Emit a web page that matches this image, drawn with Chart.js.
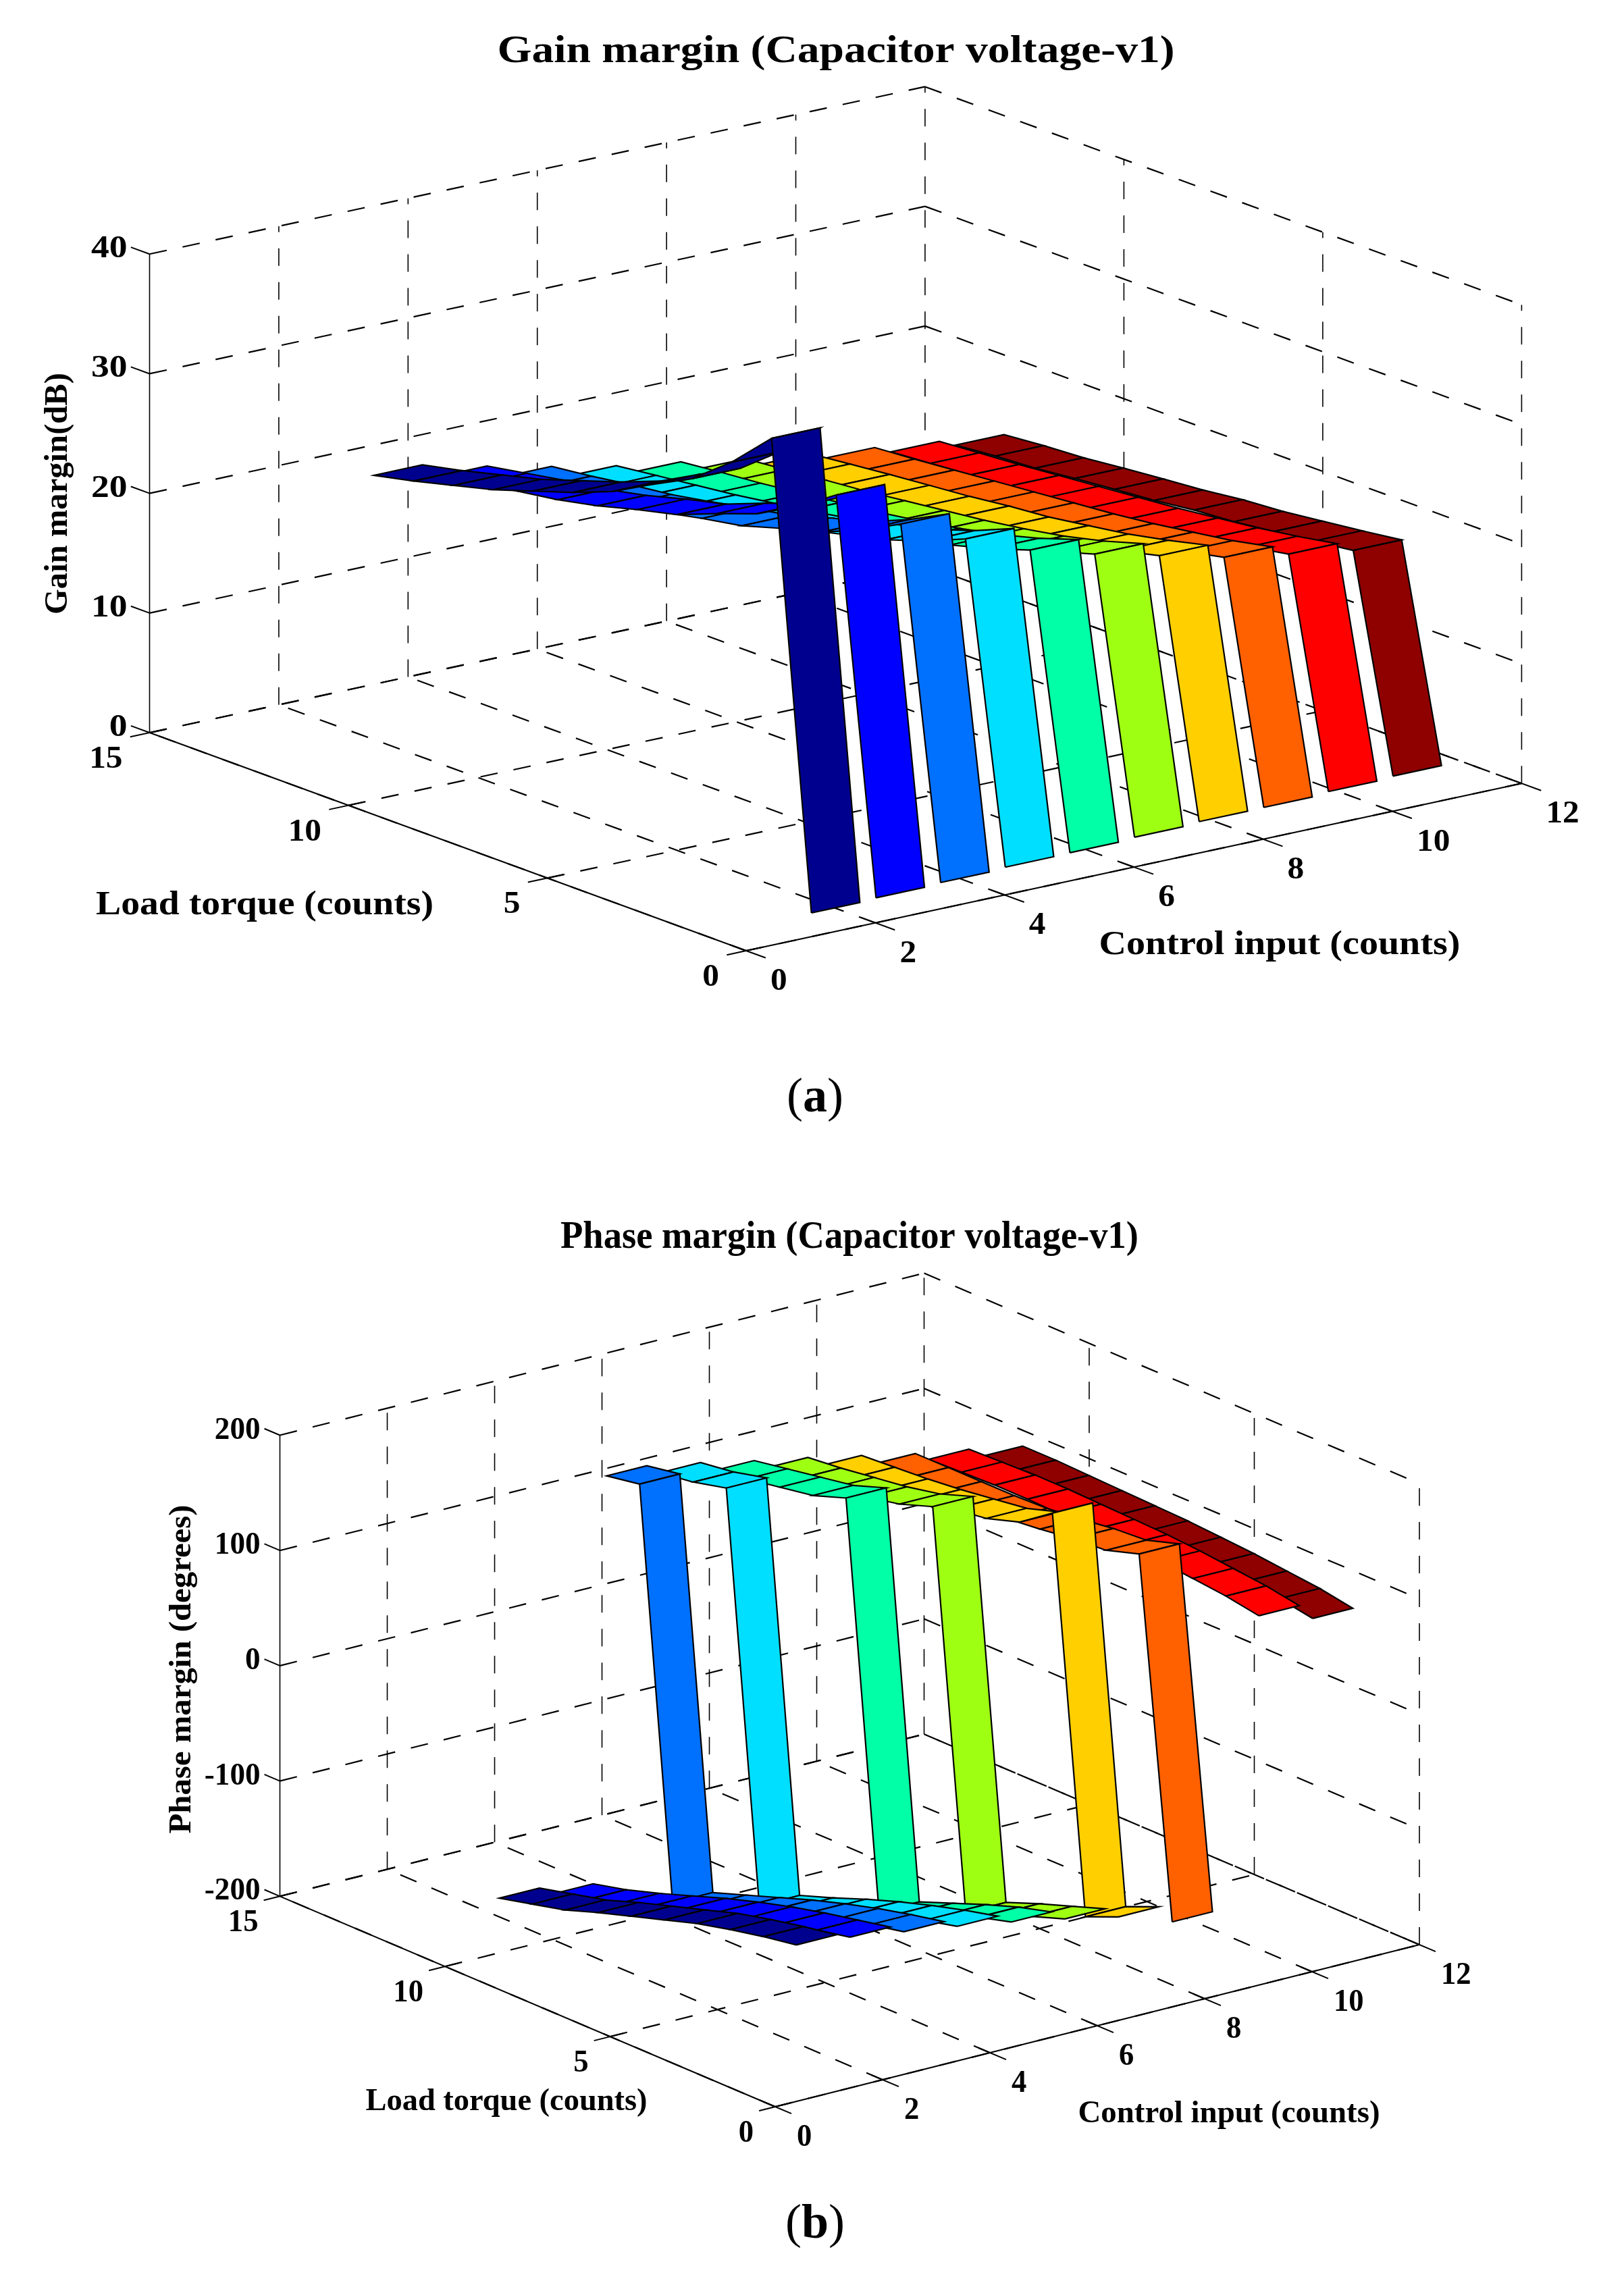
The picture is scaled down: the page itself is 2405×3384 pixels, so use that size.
<!DOCTYPE html>
<html>
<head>
<meta charset="utf-8">
<script src="https://cdn.jsdelivr.net/npm/chart.js@4"></script>
<style>
  html, body { margin: 0; padding: 0; background: #fff; }
  #page { position: relative; width: 2405px; height: 3384px; overflow: hidden; }
  canvas { position: absolute; left: 0; }
  #chartGain { top: 0; }
  #chartPhase { top: 1692px; }
  .caption { position: absolute; left: 1157px; width: 100px; text-align: center;
    font: 72px "Liberation Serif", serif; color: #000; }
  .caption b { font-weight: bold; }
</style>
</head>
<body>
<div id="page">
  <canvas id="chartGain" width="2405" height="1692"></canvas>
  <canvas id="chartPhase" width="2405" height="1692"></canvas>
  <div class="caption" style="top:1581px">(<b>a</b>)</div>
  <div class="caption" style="top:3249px">(<b>b</b>)</div>
</div>
<script>
// control input position of each ribbon
const controlInputs = [2, 3, 4, 5, 6, 7, 8, 9, 10, 11];
const ribbonColors = ["#00008f", "#0000ff", "#0070ff", "#00dfff", "#00ffa6",
  "#9fff12", "#ffcf00", "#ff6000", "#ff0000", "#8f0000"];
const ribbonHalfWidth = 0.375;

const xTicks = [0, 2, 4, 6, 8, 10, 12];
const yTicks = [0, 5, 10, 15];
const gainZTicks = [0, 10, 20, 30, 40];
const phaseZTicks = [-200, -100, 0, 100, 200];

// gain margin (dB), load torque = 1..12
const gainLoad = [1, 2, 3, 4, 5, 6, 7, 8, 9, 10, 11, 12];
const gain1 = [0.05, 38.5, 35.3, 32.7, 31, 29.2, 27.9, 26.8, 25.7, 24.85, 24, 23.26];
const gain2 = [0.15, 32.6, 30.4, 28.6, 27.4, 26.1, 25.3, 24.4, 23.7, 23.2, 22.6, 22];
const gain3 = [0.26, 29, 27.3, 25.9, 25, 24, 23.4, 22.7, 22.1, 21.7, 21.2, 20.8];
const gain4 = [0.38, 26.6, 25.2, 24.1, 23.3, 22.5, 21.9, 21.4, 20.9, 20.5, 20.1, 19.7];
const gain5 = [0.42, 24.5, 23.4, 22.5, 21.8, 21.2, 20.7, 20.3, 19.9, 19.5, 19.2, 18.85];
const gain6 = [0.55, 23, 22, 21.2, 20.6, 20.1, 19.7, 19.3, 18.9, 18.6, 18.25, 17.94];
const gain7 = [0.69, 21.7, 20.9, 20.2, 19.7, 19.2, 18.9, 18.5, 18.2, 17.9, 17.55, 17.2];
const gain8 = [0.71, 20.4, 19.7, 19.2, 18.7, 18.3, 18, 17.7, 17.4, 17.1, 16.8, 16.55];
const gain9 = [0.87, 19.5, 18.9, 18.4, 18, 17.6, 17.3, 17, 16.7, 16.4, 16.15, 15.9];
const gain10 = [1, 18.65, 18.2, 17.8, 17.4, 17.16, 16.75, 16.46, 16.15, 15.8, 15.6, 15.3];
const gainSeries = [gain1, gain2, gain3, gain4, gain5, gain6, gain7, gain8, gain9, gain10];

// phase margin (degrees), load torque = 1..11, null where nothing is drawn
const phaseLoad = [1, 2, 3, 4, 5, 6, 7, 8, 9, 10, 11];
const phase1 = [null, -103, -108, -114, -121, -130, -139, -148, -158, -165, -172];
const phase2 = [null, -108, -114, -120, -127, -135, -144, -154, -164, -173, -180];
const phase3 = [null, -115, -121, -128, -136, -145, -155, -165, -175, 176, 171];
const phase4 = [null, -122, -129, -137, -146, -156, -167, -177, 173, 166, 162];
const phase5 = [null, -130, -138, -148, -159, -170, 177, 167, 162, 157, 152];
const phase6 = [null, -139, -149, -159, -170, 170, 160, 154, 150, 146, 143];
const phase7 = [null, -149, -161, 177, 157, 148, 144, 140, 137, 135, 133];
const phase8 = [null, -165, 142, 133, 131, 127, 124, 123, 123, 123, 123];
const phase9 = [101, 106, 109, 112, 114, 115, 116, 117, 117, 116, 115];
const phase10 = [87, 92, 95, 98, 100, 102, 103, 104, 105, 106, 106];
const phaseSeries = [phase1, phase2, phase3, phase4, phase5, phase6, phase7, phase8, phase9, phase10];

const SERIF = '"Liberation Serif", "Times New Roman", serif';

// fixed orthographic view of each box, the way MATLAB draws a 3-D axes
const gainView = { ox: 1105, oy: 1408, xx: 95.7, xy: -20.65, yx: -58.9, yy: -21.53, zy: -17.72, zMin: 0 };
const phaseView = { ox: 1148, oy: 1428, xx: 79.5, xy: -20, yx: -48.9, yy: -20.78, zy: -1.707, zMin: -200 };

function project(view, x, y, z) {
  return {
    x: view.ox + view.xx * x + view.yx * y,
    y: view.oy + view.xy * x + view.yy * y + view.zy * (z - view.zMin),
  };
}

function lineSet(view, pts, dashed, width) {
  return {
    data: pts.map((p) => project(view, p[0], p[1], p[2])),
    showLine: true,
    fill: false,
    tension: 0,
    pointRadius: 0,
    borderColor: "#000",
    borderWidth: width,
    borderDash: dashed ? [26, 24] : [],
  };
}

function boxSets(view, zTicks) {
  const sets = [];
  const xMax = xTicks[xTicks.length - 1];
  const yMax = yTicks[yTicks.length - 1];
  const zMax = zTicks[zTicks.length - 1];
  const zMin = zTicks[0];

  // dashed grid on the floor and the two back walls
  xTicks.forEach((x) => {
    sets.push(lineSet(view, [[x, 0, zMin], [x, yMax, zMin]], true, 2.2));
    if (x > 0) sets.push(lineSet(view, [[x, yMax, zMin], [x, yMax, zMax]], true, 1.6));
  });
  yTicks.forEach((y) => {
    sets.push(lineSet(view, [[0, y, zMin], [xMax, y, zMin]], true, 2.2));
    if (y < yMax) sets.push(lineSet(view, [[xMax, y, zMin], [xMax, y, zMax]], true, 1.6));
  });
  zTicks.forEach((z) => {
    sets.push(lineSet(view, [[0, yMax, z], [xMax, yMax, z]], true, 2.2));
    sets.push(lineSet(view, [[xMax, yMax, z], [xMax, 0, z]], true, 2.2));
  });

  // solid axes and tick marks
  sets.push(lineSet(view, [[0, 0, zMin], [xMax, 0, zMin]], false, 2));
  sets.push(lineSet(view, [[0, 0, zMin], [0, yMax, zMin]], false, 2));
  sets.push(lineSet(view, [[0, yMax, zMin], [0, yMax, zMax]], false, 1.6));
  xTicks.forEach((x) => sets.push(lineSet(view, [[x, -0.49, zMin], [x, 0.35, zMin]], false, 2)));
  yTicks.forEach((y) => sets.push(lineSet(view, [[-0.3, y, zMin], [0.25, y, zMin]], false, 2)));
  zTicks.forEach((z) => sets.push(lineSet(view, [[0, yMax, z], [0, yMax + 0.47, z]], false, 2)));
  return sets;
}

// one filled quad per ribbon cell, far cells first
function ribbonSets(view, loads, series) {
  const sets = [];
  for (let r = series.length - 1; r >= 0; r--) {
    const left = controlInputs[r] - ribbonHalfWidth;
    const right = controlInputs[r] + ribbonHalfWidth;
    const values = series[r];
    for (let i = values.length - 2; i >= 0; i--) {
      if (values[i] === null || values[i + 1] === null) continue;
      const quad = [
        [left, loads[i], values[i]],
        [right, loads[i], values[i]],
        [right, loads[i + 1], values[i + 1]],
        [left, loads[i + 1], values[i + 1]],
        [left, loads[i], values[i]],
      ];
      sets.push({
        data: quad.map((p) => project(view, p[0], p[1], p[2])),
        showLine: true,
        fill: "shape",
        tension: 0,
        pointRadius: 0,
        backgroundColor: ribbonColors[r],
        borderColor: "#000",
        borderWidth: 2.2,
      });
    }
  }
  return sets;
}

function putText(chart, t) {
  const ctx = chart.ctx;
  const sx = chart.scales.x;
  const sy = chart.scales.y;
  ctx.save();
  ctx.fillStyle = "#000";
  ctx.font = `bold ${t.size}px ${SERIF}`;
  ctx.textBaseline = "alphabetic";
  ctx.textAlign = t.align || "center";
  ctx.translate(sx.getPixelForValue(t.x), sy.getPixelForValue(t.y));
  if (t.rotate) ctx.rotate(t.rotate);
  const stretch = t.width ? t.width / ctx.measureText(t.text).width : t.stretch || 1;
  ctx.scale(stretch, 1);
  ctx.fillText(t.text, 0, 0);
  ctx.restore();
}

function textPlugin(view, zTicks, labels, style) {
  return {
    id: "boxText",
    afterDraw(chart) {
      labels.forEach((t) => putText(chart, t));
      const zMin = zTicks[0];
      const yMax = yTicks[yTicks.length - 1];
      xTicks.forEach((x) => {
        const p = project(view, x, 0, zMin);
        putText(chart, { text: String(x), x: p.x + style.xTickDx, y: p.y + 58, align: "left", size: 47, stretch: style.stretch });
      });
      yTicks.forEach((y) => {
        const p = project(view, 0, y, zMin);
        putText(chart, { text: String(y), x: p.x + style.yTickDx, y: p.y + 52, align: "right", size: 47, stretch: style.stretch });
      });
      zTicks.forEach((z) => {
        const p = project(view, 0, yMax, z);
        putText(chart, { text: String(z), x: p.x + style.zTickDx, y: p.y + 5, align: "right", size: 47, stretch: style.zStretch });
      });
    },
  };
}

function drawPanel(id, view, loads, series, zTicks, labels, style) {
  const canvas = document.getElementById(id);
  const datasets = boxSets(view, zTicks).concat(ribbonSets(view, loads, series));
  return new Chart(canvas, {
    type: "scatter",
    // Chart.js paints the first dataset last
    data: { datasets: datasets.reverse() },
    options: {
      responsive: false,
      animation: false,
      devicePixelRatio: 1,
      layout: { padding: 0 },
      plugins: { legend: { display: false }, tooltip: { enabled: false } },
      scales: {
        x: { type: "linear", display: false, min: 0, max: canvas.width },
        y: { type: "linear", display: false, min: 0, max: canvas.height, reverse: true },
      },
    },
    plugins: [textPlugin(view, zTicks, labels, style)],
  });
}

drawPanel("chartGain", gainView, gainLoad, gainSeries, gainZTicks, [
  { text: "Gain margin (Capacitor voltage-v1)", x: 1238, y: 92, size: 58, width: 1003 },
  { text: "Load torque (counts)", x: 392, y: 1354, size: 50, width: 500 },
  { text: "Control input (counts)", x: 1895, y: 1413, size: 50, width: 535 },
  { text: "Gain margin(dB)", x: 99, y: 731, size: 48, width: 358, rotate: -Math.PI / 2 },
], { stretch: 1.05, zStretch: 1.14, xTickDx: 36, yTickDx: -40, zTickDx: -33 });

drawPanel("chartPhase", phaseView, phaseLoad, phaseSeries, phaseZTicks, [
  { text: "Phase margin (Capacitor voltage-v1)", x: 1258, y: 156, size: 58, width: 856 },
  { text: "Load torque (counts)", x: 750, y: 1433, size: 47, width: 417 },
  { text: "Control input (counts)", x: 1820, y: 1451, size: 47, width: 447 },
  { text: "Phase margin (degrees)", x: 282, y: 780, size: 47, width: 487, rotate: -Math.PI / 2 },
], { stretch: 0.95, zStretch: 0.96, xTickDx: 32, yTickDx: -32, zTickDx: -29 });
</script>
</body>
</html>
